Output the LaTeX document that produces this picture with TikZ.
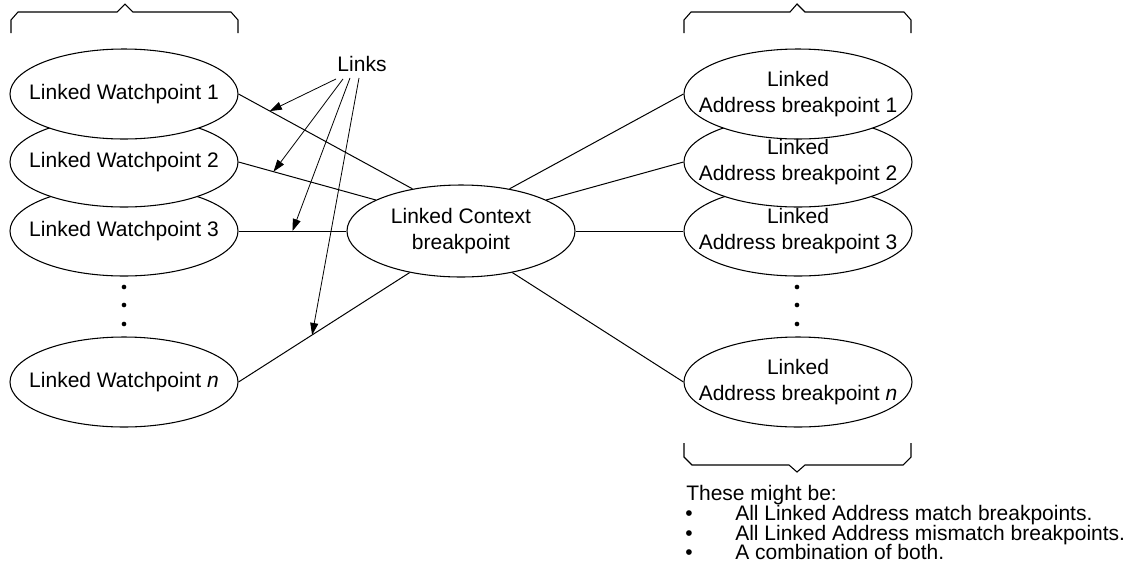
\documentclass[tikz,border=0pt]{standalone}
\usepackage{fontspec}
\setmainfont{Liberation Sans}
\usetikzlibrary{shapes.geometric,arrows.meta}
\begin{document}
\begin{tikzpicture}[x=0.75pt,y=-0.75pt,
  every node/.style={font=\fontsize{15.75pt}{19.5pt}\selectfont},
  bub/.style={ellipse,draw,fill=white,line width=0.8pt,inner sep=0pt,minimum width=171pt,minimum height=67.5pt},
  txt/.style={align=center,inner sep=0pt},
  link/.style={line width=0.75pt},
  ptr/.style={line width=0.6pt,-{Triangle[length=9pt,width=6pt]}},
  brace/.style={line width=0.8pt},
  dot/.style={circle,fill=black,inner sep=0pt,minimum size=3.5pt},
  plain/.style={inner sep=0pt}
]
\useasboundingbox (0,0) rectangle (1140,583);

% left column (lower ellipses first, upper ones drawn over them)
\node[bub] (LWn) at (124,382) {};
\node[bub] (LW3) at (124,231) {};
\node[bub] (LW2) at (124,162) {};
\node[bub] (LW1) at (124,94) {};
\node[txt] (LW1t) at (LW1) {Linked Watchpoint 1};
\node[txt] (LW2t) at (LW2) {Linked Watchpoint 2};
\node[txt] (LW3t) at (LW3) {Linked Watchpoint 3};
\node[txt] (LWnt) at (LWn) {Linked Watchpoint \textit{n}};
\node[dot] (ld1) at (124,287) {};
\node[dot] (ld2) at (124,305) {};
\node[dot] (ld3) at (124,324) {};

% centre
\node[bub,minimum height=69pt] (C) at (461,231) {};
\node[txt] (Ct) at (C) {Linked Context\\breakpoint};

% right column
\node[bub] (RAn) at (798,382) {};
\node[bub] (RA3) at (798,231) {};
\node[bub] (RA2) at (798,162) {};
\node[bub] (RA1) at (798,94) {};
\node[txt] (RA1t) at (RA1) {Linked\\Address breakpoint 1};
\node[txt] (RA2t) at (RA2) {Linked\\Address breakpoint 2};
\node[txt] (RA3t) at (RA3) {Linked\\Address breakpoint 3};
\node[txt] (RAnt) at (RAn) {Linked\\Address breakpoint \textit{n}};
\node[dot] (rd1) at (797,287) {};
\node[dot] (rd2) at (797,305) {};
\node[dot] (rd3) at (797,324) {};

% connectors
\draw[link] (LW1.east) -- coordinate[pos=0.18] (t1) (C.139);
\draw[link] (LW2.east) -- coordinate[pos=0.255] (t2) (C.160);
\draw[link] (LW3.east) -- coordinate[pos=0.5] (t3) (C.west);
\draw[link] (LWn.east) -- coordinate[pos=0.43] (t4) (C.219);
\draw[link] (C.41) -- (RA1.west);
\draw[link] (C.20) -- (RA2.west);
\draw[link] (C.east) -- (RA3.west);
\draw[link] (C.-39) -- (RAn.west);

% Links label and pointers
\node[plain] (links) at (362,64) {Links};
\draw[ptr] ([shift={(-26,7)}]links.south) -- (t1);
\draw[ptr] ([shift={(-19,7)}]links.south) -- (t2);
\draw[ptr] ([shift={(-12,6)}]links.south) -- (t3);
\draw[ptr] ([shift={(-3,6)}]links.south) -- (t4);

% braces
\draw[brace] (11,33) -- (11,20) -- (18,12) -- (117,12) -- (125,4) -- (133,12) -- (231,12) -- (238,20) -- (238,33);
\draw[brace] (684,33) -- (684,20) -- (691,12) -- (790,12) -- (797,4) -- (805,12) -- (904,12) -- (911,20) -- (911,33);
\draw[brace] (684,443) -- (684,457) -- (692,465) -- (789,465) -- (797,472) -- (805,465) -- (903,465) -- (911,457) -- (911,443);

% note
\node[plain,anchor=base west] (hdr) at (686,500) {These might be:};
\node[plain,anchor=base] (b1) at (689,520) {•};
\node[plain,anchor=base] (b2) at (689,540) {•};
\node[plain,anchor=base] (b3) at (689,559) {•};
\node[plain,anchor=base west] (i1) at (735,520) {All Linked Address match breakpoints.};
\node[plain,anchor=base west] (i2) at (735,540) {All Linked Address mismatch breakpoints.};
\node[plain,anchor=base west] (i3) at (735,559) {A combination of both.};
\end{tikzpicture}
\end{document}
